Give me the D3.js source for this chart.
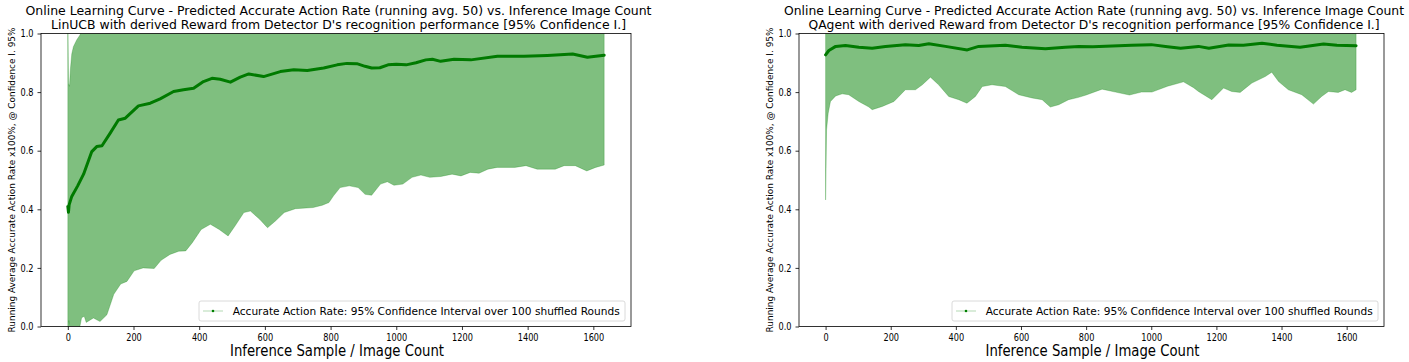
<!DOCTYPE html>
<html>
<head>
<meta charset="utf-8">
<script src="https://cdn.jsdelivr.net/npm/d3@7"></script>
<style>
  body { margin: 0; background: #fff; }
  text { font-family: "DejaVu Sans", sans-serif; fill: #000; }
</style>
</head>
<body>
<div id="main"></div>
<script>
const width = 1409;
const height = 362;

// ---- LinUCB (left) ----
const linMeanX = [0, 2, 4, 12, 30, 48, 73, 88, 104, 129, 154, 175, 215, 251, 281, 322, 352, 383, 413, 439, 464, 495, 525, 551, 596, 647, 688, 729, 779, 820, 850, 880, 905, 925, 950, 975, 1000, 1030, 1060, 1090, 1110, 1135, 1176, 1227, 1308, 1389, 1460, 1537, 1582, 1633];
const linMean  = [0.41, 0.39, 0.415, 0.444, 0.48, 0.52, 0.597, 0.614, 0.617, 0.66, 0.705, 0.711, 0.753, 0.762, 0.777, 0.802, 0.808, 0.813, 0.836, 0.847, 0.844, 0.834, 0.851, 0.862, 0.853, 0.870, 0.876, 0.874, 0.882, 0.893, 0.898, 0.897, 0.888, 0.882, 0.883, 0.893, 0.895, 0.893, 0.900, 0.910, 0.912, 0.905, 0.912, 0.910, 0.922, 0.922, 0.925, 0.930, 0.919, 0.926];
const linUpX   = [0, 2, 5, 8, 12, 17, 27, 37, 45, 100, 400, 1000, 1633];
const linUp    = [1.05, 0.83, 0.82, 0.88, 0.93, 0.955, 0.978, 0.995, 1.02, 1.1, 1.3, 1.3, 1.3];
const linLowX  = [0, 3, 6, 20, 35, 42, 50, 56, 78, 98, 119, 140, 161, 180, 202, 229, 263, 284, 311, 338, 359, 379, 406, 434, 461, 488, 509, 536, 556, 584, 608, 632, 659, 693, 747, 775, 795, 809, 829, 857, 884, 905, 925, 952, 973, 993, 1020, 1048, 1075, 1102, 1136, 1170, 1197, 1225, 1252, 1279, 1307, 1361, 1395, 1429, 1457, 1484, 1511, 1545, 1580, 1607, 1633];
const linLow   = [-0.05, 0.02, -0.02, -0.03, -0.01, 0.03, 0.035, 0.014, 0.029, 0.017, 0.04, 0.11, 0.145, 0.154, 0.19, 0.2, 0.198, 0.226, 0.246, 0.257, 0.258, 0.286, 0.331, 0.349, 0.331, 0.309, 0.343, 0.389, 0.394, 0.366, 0.337, 0.36, 0.389, 0.402, 0.406, 0.414, 0.423, 0.446, 0.474, 0.48, 0.474, 0.451, 0.448, 0.486, 0.494, 0.482, 0.486, 0.509, 0.517, 0.509, 0.512, 0.52, 0.514, 0.526, 0.523, 0.537, 0.543, 0.543, 0.549, 0.537, 0.537, 0.537, 0.549, 0.549, 0.531, 0.543, 0.551];

// ---- QAgent (right) ----
const qMeanX = [0, 10, 31, 61, 102, 143, 184, 245, 286, 317, 368, 435, 470, 552, 603, 675, 736, 778, 820, 880, 940, 1000, 1050, 1090, 1145, 1177, 1238, 1283, 1340, 1386, 1457, 1529, 1570, 1629];
const qMean  = [0.927, 0.942, 0.956, 0.959, 0.953, 0.950, 0.956, 0.962, 0.959, 0.965, 0.956, 0.944, 0.956, 0.960, 0.953, 0.948, 0.953, 0.956, 0.955, 0.957, 0.960, 0.962, 0.955, 0.950, 0.956, 0.950, 0.961, 0.960, 0.967, 0.960, 0.953, 0.964, 0.960, 0.958];
const qUpX   = [0, 3, 8, 15, 31, 300, 800, 1629];
const qUp    = [1.42, 1.19, 1.15, 1.13, 1.12, 1.1, 1.12, 1.11];
const qLowX  = [0, 3, 8, 15, 31, 51, 71, 102, 133, 143, 174, 210, 245, 276, 297, 322, 347, 378, 409, 434, 460, 481, 511, 552, 593, 634, 665, 690, 716, 746, 777, 800, 849, 890, 933, 970, 1002, 1050, 1099, 1130, 1145, 1186, 1222, 1247, 1273, 1309, 1350, 1370, 1391, 1421, 1462, 1498, 1523, 1544, 1574, 1595, 1615, 1629];
const qLow   = [0.432, 0.671, 0.728, 0.768, 0.787, 0.794, 0.791, 0.768, 0.749, 0.740, 0.751, 0.768, 0.808, 0.808, 0.825, 0.851, 0.825, 0.785, 0.774, 0.762, 0.785, 0.819, 0.825, 0.819, 0.791, 0.780, 0.774, 0.749, 0.757, 0.774, 0.782, 0.790, 0.810, 0.800, 0.790, 0.800, 0.800, 0.820, 0.835, 0.815, 0.802, 0.774, 0.814, 0.802, 0.799, 0.831, 0.853, 0.868, 0.836, 0.808, 0.791, 0.759, 0.785, 0.802, 0.799, 0.808, 0.799, 0.808];

const xTicks = [0, 200, 400, 600, 800, 1000, 1200, 1400, 1600];
const yTicks = [0, 0.2, 0.4, 0.6, 0.8, 1.0];

const titleLine1 = 'Online Learning Curve - Predicted Accurate Action Rate (running avg. 50) vs. Inference Image Count';
const leftTitle2 = "LinUCB with derived Reward from Detector D's recognition performance [95% Confidence I.]";
const rightTitle2 = "QAgent with derived Reward from Detector D's recognition performance [95% Confidence I.]";
const yLabel = 'Running Average Accurate Action Rate x100%, @ Confidence I. 95%';
const xLabel = 'Inference Sample / Image Count';
const legendText = 'Accurate Action Rate: 95% Confidence Interval over 100 shuffled Rounds';

const svg = d3.select('#main')
    .append('svg')
    .attr('width', width)
    .attr('height', height);

const zip = (xs, ys) => xs.map((x, i) => [x, ys[i]]);

function drawPanel(o) {
    const x = d3.scaleLinear().domain([-81.65, 1714.65]).range([o.left, o.right]);
    const y = d3.scaleLinear().domain([0, 1]).range([326.5, 33.5]);
    const g = svg.append('g');

    const clipId = 'clip' + o.id;
    svg.append('clipPath').attr('id', clipId)
        .append('rect')
        .attr('x', o.left).attr('y', 33.5)
        .attr('width', o.right - o.left).attr('height', 293);

    const line = d3.line().x(d => x(d[0])).y(d => y(d[1]));

    // confidence band: upper edge forward, lower edge back
    const band = zip(o.upX, o.up).concat(zip(o.lowX, o.low).reverse());
    g.append('path')
        .attr('clip-path', `url(#${clipId})`)
        .attr('d', line(band) + 'Z')
        .attr('fill', 'green')
        .attr('fill-opacity', 0.5)
        .attr('stroke', 'green')
        .attr('stroke-opacity', 0.25)
        .attr('stroke-width', 1);

    g.append('path')
        .attr('clip-path', `url(#${clipId})`)
        .attr('d', line(zip(o.meanX, o.mean)))
        .attr('fill', 'none')
        .attr('stroke', '#007a00')
        .attr('stroke-width', 3)
        .attr('stroke-linejoin', 'round')
        .attr('stroke-linecap', 'round');

    // axes
    const xa = g.append('g')
        .attr('transform', 'translate(0,326.5)')
        .call(d3.axisBottom(x).tickValues(xTicks).tickFormat(d3.format('d')).tickSize(3.5).tickPadding(3.5));
    const ya = g.append('g')
        .attr('transform', `translate(${o.left},0)`)
        .call(d3.axisLeft(y).tickValues(yTicks).tickFormat(d3.format('.1f')).tickSize(3.5).tickPadding(4));
    [xa, ya].forEach(a => {
        a.select('.domain').remove();
        a.selectAll('line').attr('stroke', '#000').attr('stroke-width', 0.8);
        a.selectAll('text').style('font-size', '10px').attr('fill', '#000');
    });
    xa.selectAll('text').attr('transform', 'scale(0.82,1)');
    ya.selectAll('text').attr('x', null).attr('transform', 'translate(-7.5,0) scale(0.82,1)');

    g.append('rect')
        .attr('x', o.left).attr('y', 33.5)
        .attr('width', o.right - o.left).attr('height', 293)
        .attr('fill', 'none').attr('stroke', '#000').attr('stroke-width', 0.8);

    // titles and labels
    const cx = (o.left + o.right) / 2;
    g.append('text').attr('x', cx + 2.5).attr('y', 15)
        .attr('text-anchor', 'middle').style('font-size', '12px')
        .attr('textLength', o.t1len).attr('lengthAdjust', 'spacingAndGlyphs')
        .text(titleLine1);
    g.append('text').attr('x', cx + 2.5).attr('y', 29)
        .attr('text-anchor', 'middle').style('font-size', '12px')
        .attr('textLength', o.t2len).attr('lengthAdjust', 'spacingAndGlyphs')
        .text(o.title2);
    g.append('text').attr('x', cx + 1).attr('y', 356)
        .attr('text-anchor', 'middle').style('font-size', '15px')
        .attr('textLength', 214).attr('lengthAdjust', 'spacingAndGlyphs')
        .text(xLabel);
    g.append('text')
        .attr('transform', `translate(${o.left - 26},180) rotate(-90)`)
        .attr('text-anchor', 'middle').style('font-size', '8.6px')
        .attr('textLength', 305).attr('lengthAdjust', 'spacingAndGlyphs')
        .text(yLabel);

    // legend
    const lx = o.right - 6 - 426;
    const lg = g.append('g').attr('transform', `translate(${lx},301)`);
    lg.append('rect').attr('width', 426).attr('height', 20).attr('rx', 2)
        .attr('fill', '#fff').attr('fill-opacity', 0.8)
        .attr('stroke', '#d0d0d0').attr('stroke-width', 0.8);
    lg.append('line').attr('x1', 4).attr('x2', 24).attr('y1', 10).attr('y2', 10)
        .attr('stroke', 'green').attr('stroke-opacity', 0.2).attr('stroke-width', 1.5);
    lg.append('circle').attr('cx', 14).attr('cy', 10).attr('r', 1.3).attr('fill', 'green');
    lg.append('text').attr('x', 33.7).attr('y', 14)
        .style('font-size', '11px')
        .attr('textLength', 387).attr('lengthAdjust', 'spacingAndGlyphs')
        .text(legendText);
}

drawPanel({ id: 'L', left: 41, right: 631, meanX: linMeanX, mean: linMean, upX: linUpX, up: linUp,
    lowX: linLowX, low: linLow, title2: leftTitle2, t1len: 626, t2len: 575 });
drawPanel({ id: 'R', left: 799, right: 1384, meanX: qMeanX, mean: qMean, upX: qUpX, up: qUp,
    lowX: qLowX, low: qLow, title2: rightTitle2, t1len: 620, t2len: 571 });
</script>
</body>
</html>
